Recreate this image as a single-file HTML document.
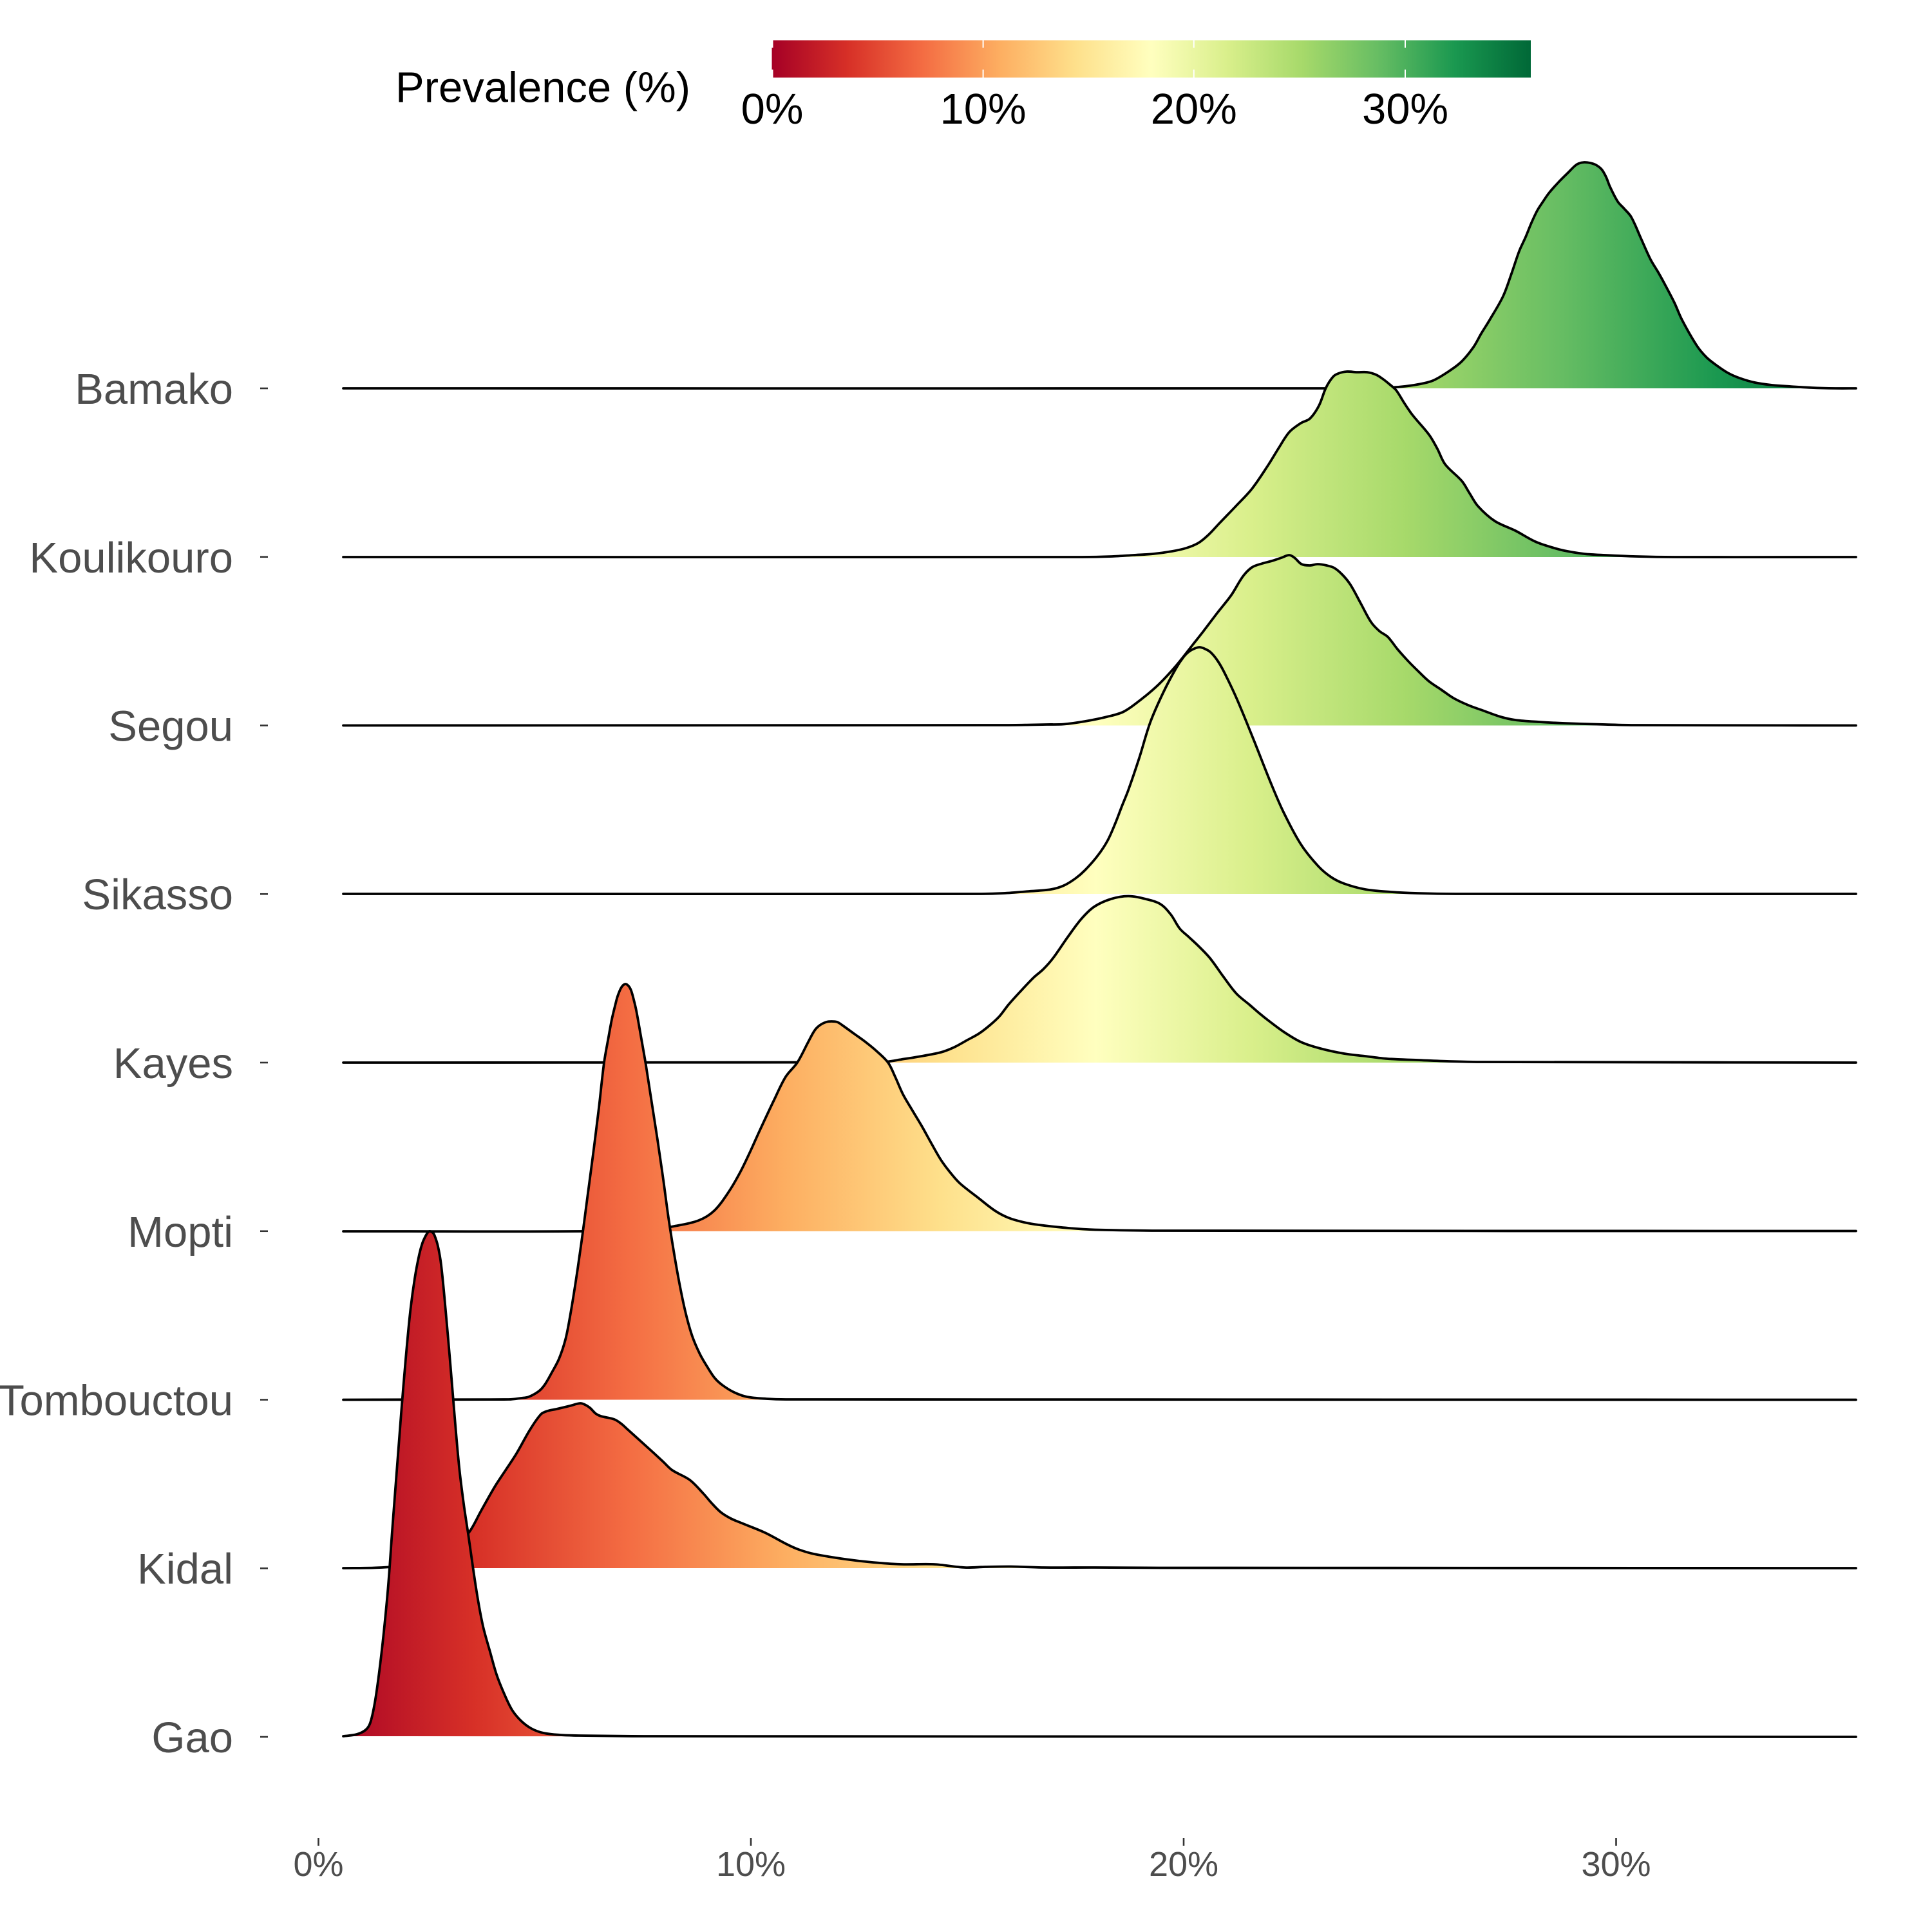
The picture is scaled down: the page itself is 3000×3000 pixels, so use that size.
<!DOCTYPE html>
<html>
<head>
<meta charset="utf-8">
<style>
  html, body { margin: 0; padding: 0; background: #ffffff; }
  svg { display: block; }
  .ylab { font-family: "Liberation Sans", Arial, sans-serif; font-size: 67px; fill: #4d4d4d; }
  .xlab { font-family: "Liberation Sans", Arial, sans-serif; font-size: 54px; fill: #4d4d4d; }
  .leg  { font-family: "Liberation Sans", Arial, sans-serif; font-size: 67px; fill: #000000; }
  .ridge-fill { fill: url(#rdylgn); stroke: none; }
  .ridge-line { fill: none; stroke: #000000; stroke-width: 3.8; stroke-linejoin: round; stroke-linecap: round; }
</style>
</head>
<body>
<svg width="3000" height="3000" viewBox="0 0 3000 3000" xmlns="http://www.w3.org/2000/svg">
  <defs>
    <linearGradient id="rdylgn" gradientUnits="userSpaceOnUse" x1="494.5" y1="0" x2="2909" y2="0">
      <stop offset="0" stop-color="#a50026"/>
      <stop offset="0.1" stop-color="#d73027"/>
      <stop offset="0.2" stop-color="#f46d43"/>
      <stop offset="0.3" stop-color="#fdae61"/>
      <stop offset="0.4" stop-color="#fee08b"/>
      <stop offset="0.5" stop-color="#ffffbf"/>
      <stop offset="0.6" stop-color="#d9ef8b"/>
      <stop offset="0.7" stop-color="#a6d96a"/>
      <stop offset="0.8" stop-color="#66bd63"/>
      <stop offset="0.9" stop-color="#1a9850"/>
      <stop offset="1" stop-color="#006837"/>
    </linearGradient>
    <linearGradient id="cbar" gradientUnits="objectBoundingBox" x1="0" y1="0" x2="1" y2="0">
      <stop offset="0" stop-color="#a50026"/>
      <stop offset="0.1" stop-color="#d73027"/>
      <stop offset="0.2" stop-color="#f46d43"/>
      <stop offset="0.3" stop-color="#fdae61"/>
      <stop offset="0.4" stop-color="#fee08b"/>
      <stop offset="0.5" stop-color="#ffffbf"/>
      <stop offset="0.6" stop-color="#d9ef8b"/>
      <stop offset="0.7" stop-color="#a6d96a"/>
      <stop offset="0.8" stop-color="#66bd63"/>
      <stop offset="0.9" stop-color="#1a9850"/>
      <stop offset="1" stop-color="#006837"/>
    </linearGradient>
  </defs>

  <rect x="0" y="0" width="3000" height="3000" fill="#ffffff"/>

  <!-- Legend -->
  <text class="leg" x="614" y="158.5">Prevalence (%)</text>
  <rect x="1198.5" y="62.5" width="1178.5" height="58" fill="url(#cbar)"/>
  <g stroke="#ffffff" stroke-width="2">
    <line x1="1199.5" y1="62.5" x2="1199.5" y2="74"/><line x1="1199.5" y1="108" x2="1199.5" y2="120.5"/>
    <line x1="1526.6" y1="62.5" x2="1526.6" y2="74"/><line x1="1526.6" y1="108" x2="1526.6" y2="120.5"/>
    <line x1="1853.8" y1="62.5" x2="1853.8" y2="74"/><line x1="1853.8" y1="108" x2="1853.8" y2="120.5"/>
    <line x1="2182" y1="62.5" x2="2182" y2="74"/><line x1="2182" y1="108" x2="2182" y2="120.5"/>
  </g>
  <g class="leg" text-anchor="middle">
    <text x="1199" y="192">0%</text>
    <text x="1526.6" y="192">10%</text>
    <text x="1853.8" y="192">20%</text>
    <text x="2182" y="192">30%</text>
  </g>

  <!-- Y axis labels -->
  <g class="ylab" text-anchor="end">
    <text x="362" y="627">Bamako</text>
    <text x="362" y="889">Koulikouro</text>
    <text x="362" y="1150.5">Segou</text>
    <text x="362" y="1412">Sikasso</text>
    <text x="362" y="1674">Kayes</text>
    <text x="362" y="1936">Mopti</text>
    <text x="362" y="2197.5">Tombouctou</text>
    <text x="362" y="2459">Kidal</text>
    <text x="362" y="2721">Gao</text>
  </g>
  <!-- Y ticks -->
  <g stroke="#333333" stroke-width="2.6">
    <line x1="404" y1="603" x2="416" y2="603"/>
    <line x1="404" y1="864.75" x2="416" y2="864.75"/>
    <line x1="404" y1="1126.5" x2="416" y2="1126.5"/>
    <line x1="404" y1="1388.25" x2="416" y2="1388.25"/>
    <line x1="404" y1="1650" x2="416" y2="1650"/>
    <line x1="404" y1="1911.75" x2="416" y2="1911.75"/>
    <line x1="404" y1="2173.5" x2="416" y2="2173.5"/>
    <line x1="404" y1="2435.25" x2="416" y2="2435.25"/>
    <line x1="404" y1="2697" x2="416" y2="2697"/>
  </g>

  <!-- X ticks and labels -->
  <g stroke="#333333" stroke-width="2.6">
    <line x1="494.5" y1="2854" x2="494.5" y2="2866"/>
    <line x1="1166" y1="2854" x2="1166" y2="2866"/>
    <line x1="1838" y1="2854" x2="1838" y2="2866"/>
    <line x1="2509.5" y1="2854" x2="2509.5" y2="2866"/>
  </g>
  <g class="xlab" text-anchor="middle">
    <text x="494.5" y="2913">0%</text>
    <text x="1166" y="2913">10%</text>
    <text x="1838" y="2913">20%</text>
    <text x="2509.5" y="2913">30%</text>
  </g>

  <!-- Ridges (top to bottom; lower rows drawn over upper) -->
  <!-- Bamako -->
  <path class="ridge-fill" d="M533,603 L2100,603 L2150,602 L2175,600.5 L2201,597 L2225,591 L2252,575 L2270,561 L2288,539 L2300,518 L2313,497 L2334,460 L2347,425 L2359,390 L2369,368 L2378,346 L2387,327 L2396,313 L2405,300 L2420,283 L2436,267 L2445,258 L2451,254 L2460,252 L2469,253 L2478,256 L2487,263 L2494,275 L2500,290 L2512,313 L2522,324 L2533,337 L2548,370 L2563,403 L2575,423 L2586,443 L2600,470 L2612,497 L2635,537 L2650,555 L2665,567 L2683,579 L2701,587 L2725,594 L2752,598 L2780,600 L2813,602 L2850,603 L2882,603 Z"/>
  <path class="ridge-line" d="M533,603 L2100,603 L2150,602 L2175,600.5 L2201,597 L2225,591 L2252,575 L2270,561 L2288,539 L2300,518 L2313,497 L2334,460 L2347,425 L2359,390 L2369,368 L2378,346 L2387,327 L2396,313 L2405,300 L2420,283 L2436,267 L2445,258 L2451,254 L2460,252 L2469,253 L2478,256 L2487,263 L2494,275 L2500,290 L2512,313 L2522,324 L2533,337 L2548,370 L2563,403 L2575,423 L2586,443 L2600,470 L2612,497 L2635,537 L2650,555 L2665,567 L2683,579 L2701,587 L2725,594 L2752,598 L2780,600 L2813,602 L2850,603 L2882,603"/>

  <!-- Koulikouro -->
  <path class="ridge-fill" d="M533,865 L1680,865 L1727,864 L1760,862 L1791,860 L1820,856 L1842,851 L1861,843 L1877,830 L1893,813 L1919,786 L1944,759 L1970,721 L1986,695 L2002,671 L2020,657 L2034,650 L2048,630 L2059,602 L2070,585 L2078,580 L2091,577 L2107,578 L2123,578 L2137,582 L2148,589 L2158,597 L2168,606 L2180,625 L2193,644 L2219,675 L2232,697 L2244,721 L2270,747 L2282,766 L2295,786 L2321,809 L2353,824 L2384,841 L2410,850 L2429,855 L2460,860 L2493,862 L2540,864 L2600,865 L2882,865 Z"/>
  <path class="ridge-line" d="M533,865 L1680,865 L1727,864 L1760,862 L1791,860 L1820,856 L1842,851 L1861,843 L1877,830 L1893,813 L1919,786 L1944,759 L1970,721 L1986,695 L2002,671 L2020,657 L2034,650 L2048,630 L2059,602 L2070,585 L2078,580 L2091,577 L2107,578 L2123,578 L2137,582 L2148,589 L2158,597 L2168,606 L2180,625 L2193,644 L2219,675 L2232,697 L2244,721 L2270,747 L2282,766 L2295,786 L2321,809 L2353,824 L2384,841 L2410,850 L2429,855 L2460,860 L2493,862 L2540,864 L2600,865 L2882,865"/>

  <!-- Segou -->
  <path class="ridge-fill" d="M533,1126.5 L1560,1126 L1600,1125.5 L1625,1125 L1652,1124.5 L1685,1120 L1719,1113 L1745,1105 L1772,1086 L1799,1063 L1826,1034 L1853,1000 L1868,981 L1890,952 L1912,924 L1930,895 L1944,881 L1960,875 L1975,871 L1990,866 L2002,862 L2010,866 L2021,876 L2034,878 L2046,876 L2060,878 L2072,882 L2085,893 L2097,908 L2113,937 L2129,966 L2142,980 L2155,989 L2170,1008 L2187,1027 L2203,1043 L2219,1058 L2238,1071 L2257,1084 L2280,1095 L2302,1103 L2330,1113 L2353,1118 L2390,1121 L2429,1123 L2493,1125 L2540,1126 L2882,1126.5 Z"/>
  <path class="ridge-line" d="M533,1126.5 L1560,1126 L1600,1125.5 L1625,1125 L1652,1124.5 L1685,1120 L1719,1113 L1745,1105 L1772,1086 L1799,1063 L1826,1034 L1853,1000 L1868,981 L1890,952 L1912,924 L1930,895 L1944,881 L1960,875 L1975,871 L1990,866 L2002,862 L2010,866 L2021,876 L2034,878 L2046,876 L2060,878 L2072,882 L2085,893 L2097,908 L2113,937 L2129,966 L2142,980 L2155,989 L2170,1008 L2187,1027 L2203,1043 L2219,1058 L2238,1071 L2257,1084 L2280,1095 L2302,1103 L2330,1113 L2353,1118 L2390,1121 L2429,1123 L2493,1125 L2540,1126 L2882,1126.5"/>

  <!-- Sikasso -->
  <path class="ridge-fill" d="M533,1388 L1520,1388 L1558,1387 L1598,1384 L1632,1381 L1652,1375 L1670,1364 L1685,1351 L1705,1328 L1720,1305 L1732,1278 L1742,1252 L1752,1227 L1769,1177 L1786,1122 L1806,1076 L1826,1038 L1838,1020 L1846,1012 L1855,1007 L1863,1005 L1872,1008 L1880,1013 L1890,1025 L1900,1042 L1920,1084 L1946,1147 L1973,1215 L1993,1261 L2020,1311 L2047,1345 L2067,1362 L2087,1372 L2120,1381 L2160,1385 L2201,1387 L2260,1388 L2882,1388 Z"/>
  <path class="ridge-line" d="M533,1388 L1520,1388 L1558,1387 L1598,1384 L1632,1381 L1652,1375 L1670,1364 L1685,1351 L1705,1328 L1720,1305 L1732,1278 L1742,1252 L1752,1227 L1769,1177 L1786,1122 L1806,1076 L1826,1038 L1838,1020 L1846,1012 L1855,1007 L1863,1005 L1872,1008 L1880,1013 L1890,1025 L1900,1042 L1920,1084 L1946,1147 L1973,1215 L1993,1261 L2020,1311 L2047,1345 L2067,1362 L2087,1372 L2120,1381 L2160,1385 L2201,1387 L2260,1388 L2882,1388"/>

  <!-- Kayes -->
  <path class="ridge-fill" d="M533,1650 L1330,1649.5 L1377,1648.5 L1400,1645 L1425,1641 L1461,1634 L1482,1626 L1502,1615 L1520,1605 L1537,1592 L1552,1578 L1566,1560 L1584,1540 L1605,1518 L1620,1505 L1635,1488 L1658,1455 L1679,1427 L1699,1408 L1725,1396 L1752,1391.5 L1779,1396 L1802,1404 L1818,1420 L1832,1442 L1846,1455 L1862,1470 L1879,1488 L1900,1517 L1920,1543 L1940,1560 L1955,1573 L1970,1585 L1993,1602 L2020,1618 L2050,1628 L2087,1636 L2120,1640 L2154,1644 L2201,1646 L2250,1648 L2300,1649 L2882,1650 Z"/>
  <path class="ridge-line" d="M533,1650 L1330,1649.5 L1377,1648.5 L1400,1645 L1425,1641 L1461,1634 L1482,1626 L1502,1615 L1520,1605 L1537,1592 L1552,1578 L1566,1560 L1584,1540 L1605,1518 L1620,1505 L1635,1488 L1658,1455 L1679,1427 L1699,1408 L1725,1396 L1752,1391.5 L1779,1396 L1802,1404 L1818,1420 L1832,1442 L1846,1455 L1862,1470 L1879,1488 L1900,1517 L1920,1543 L1940,1560 L1955,1573 L1970,1585 L1993,1602 L2020,1618 L2050,1628 L2087,1636 L2120,1640 L2154,1644 L2201,1646 L2250,1648 L2300,1649 L2882,1650"/>

  <!-- Mopti -->
  <path class="ridge-fill" d="M533,1912 L1000,1911 L1047,1904 L1085,1895 L1109,1880 L1132,1850 L1150,1819 L1165,1788 L1179,1757 L1202,1708 L1220,1672 L1238,1650 L1255,1618 L1265,1600 L1273,1592 L1283,1587 L1291,1586 L1300,1587 L1308,1592 L1326,1605 L1344,1618 L1361,1632 L1379,1650 L1390,1672 L1402,1699 L1416,1723 L1431,1748 L1446,1775 L1461,1801 L1475,1820 L1490,1837 L1519,1860 L1545,1880 L1566,1891 L1590,1898 L1613,1902 L1660,1907 L1700,1909.5 L1800,1911 L2882,1911.5 Z"/>
  <path class="ridge-line" d="M533,1912 L1000,1911 L1047,1904 L1085,1895 L1109,1880 L1132,1850 L1150,1819 L1165,1788 L1179,1757 L1202,1708 L1220,1672 L1238,1650 L1255,1618 L1265,1600 L1273,1592 L1283,1587 L1291,1586 L1300,1587 L1308,1592 L1326,1605 L1344,1618 L1361,1632 L1379,1650 L1390,1672 L1402,1699 L1416,1723 L1431,1748 L1446,1775 L1461,1801 L1475,1820 L1490,1837 L1519,1860 L1545,1880 L1566,1891 L1590,1898 L1613,1902 L1660,1907 L1700,1909.5 L1800,1911 L2882,1911.5"/>

  <!-- Tombouctou -->
  <path class="ridge-fill" d="M533,2173.5 L790,2173 L809,2171 L821,2169 L837,2160 L846,2150 L857,2131 L868,2110 L878,2080 L885,2045 L894,1990 L903,1928 L912,1860 L921,1792 L930,1720 L938,1650 L945,1610 L950,1583 L955,1562 L959,1547 L965,1533 L971,1528 L976,1531 L980,1538 L984,1552 L988,1569 L995,1608 L1003,1654 L1012,1712 L1021,1770 L1030,1832 L1038,1891 L1047,1948 L1056,1998 L1065,2040 L1075,2075 L1087,2103 L1098,2122 L1110,2140 L1122,2151 L1140,2162 L1160,2169 L1190,2172 L1220,2173 L2882,2173.5 Z"/>
  <path class="ridge-line" d="M533,2173.5 L790,2173 L809,2171 L821,2169 L837,2160 L846,2150 L857,2131 L868,2110 L878,2080 L885,2045 L894,1990 L903,1928 L912,1860 L921,1792 L930,1720 L938,1650 L945,1610 L950,1583 L955,1562 L959,1547 L965,1533 L971,1528 L976,1531 L980,1538 L984,1552 L988,1569 L995,1608 L1003,1654 L1012,1712 L1021,1770 L1030,1832 L1038,1891 L1047,1948 L1056,1998 L1065,2040 L1075,2075 L1087,2103 L1098,2122 L1110,2140 L1122,2151 L1140,2162 L1160,2169 L1190,2172 L1220,2173 L2882,2173.5"/>

  <!-- Kidal -->
  <path class="ridge-fill" d="M533,2435 L580,2434.5 L610,2433 L650,2430 L690,2420 L710,2400 L730,2377 L747,2346 L768,2309 L785,2283 L802,2257 L823,2220 L840,2196 L850,2191 L864,2188 L885,2183 L901,2179 L908,2181 L916,2186 L925,2195 L933,2199 L954,2204 L965,2211 L975,2220 L995,2238 L1016,2257 L1030,2270 L1044,2283 L1071,2298 L1092,2319 L1105,2334 L1119,2348 L1135,2358 L1154,2366 L1188,2380 L1222,2398 L1240,2406 L1264,2413 L1312,2421 L1355,2426 L1400,2429 L1450,2429 L1498,2434 L1530,2433 L1570,2432.5 L1620,2434 L1700,2434 L1800,2434.5 L2882,2435 Z"/>
  <path class="ridge-line" d="M533,2435 L580,2434.5 L610,2433 L650,2430 L690,2420 L710,2400 L730,2377 L747,2346 L768,2309 L785,2283 L802,2257 L823,2220 L840,2196 L850,2191 L864,2188 L885,2183 L901,2179 L908,2181 L916,2186 L925,2195 L933,2199 L954,2204 L965,2211 L975,2220 L995,2238 L1016,2257 L1030,2270 L1044,2283 L1071,2298 L1092,2319 L1105,2334 L1119,2348 L1135,2358 L1154,2366 L1188,2380 L1222,2398 L1240,2406 L1264,2413 L1312,2421 L1355,2426 L1400,2429 L1450,2429 L1498,2434 L1530,2433 L1570,2432.5 L1620,2434 L1700,2434 L1800,2434.5 L2882,2435"/>

  <!-- Gao -->
  <path class="ridge-fill" d="M533,2696 L554,2693 L568,2686 L575,2675 L582,2644 L589,2595 L596,2534 L603,2460 L609,2377 L616,2285 L623,2194 L630,2110 L637,2037 L644,1985 L651,1948 L656,1930 L661,1919 L665,1913 L668,1912 L672,1914 L675,1919 L680,1935 L685,1964 L692,2035 L699,2115 L706,2200 L713,2278 L720,2335 L727,2382 L740,2471 L750,2525 L761,2565 L771,2600 L782,2628 L795,2655 L809,2672 L825,2684 L844,2691 L870,2694 L899,2695 L1000,2696 L2882,2697 Z"/>
  <path class="ridge-line" d="M533,2696 L554,2693 L568,2686 L575,2675 L582,2644 L589,2595 L596,2534 L603,2460 L609,2377 L616,2285 L623,2194 L630,2110 L637,2037 L644,1985 L651,1948 L656,1930 L661,1919 L665,1913 L668,1912 L672,1914 L675,1919 L680,1935 L685,1964 L692,2035 L699,2115 L706,2200 L713,2278 L720,2335 L727,2382 L740,2471 L750,2525 L761,2565 L771,2600 L782,2628 L795,2655 L809,2672 L825,2684 L844,2691 L870,2694 L899,2695 L1000,2696 L2882,2697"/>
</svg>
<script>
(function(){
  try {
    var ps = document.querySelectorAll('path.ridge-fill, path.ridge-line');
    for (var k = 0; k < ps.length; k++) {
      var el = ps[k], d = el.getAttribute('d'), closed = /Z/.test(d);
      var nums = d.match(/-?\d+(?:\.\d+)?/g);
      if (!nums) continue;
      var p = [];
      for (var i = 0; i + 1 < nums.length; i += 2) p.push([parseFloat(nums[i]), parseFloat(nums[i+1])]);
      if (p.length < 3) continue;
      var t = [];
      for (var i = 0; i < p.length; i++) {
        var a = p[Math.max(0, i-1)], b = p[Math.min(p.length-1, i+1)];
        var dx = b[0]-a[0], dy = b[1]-a[1], L = Math.sqrt(dx*dx+dy*dy) || 1;
        t.push([dx/L, dy/L]);
      }
      var s = 'M' + p[0][0] + ',' + p[0][1];
      for (var i = 0; i < p.length-1; i++) {
        var q = p[i], r = p[i+1];
        var ddx = r[0]-q[0], ddy = r[1]-q[1];
        var h = Math.sqrt(ddx*ddx+ddy*ddy)/3;
        s += ' C' + (q[0]+t[i][0]*h).toFixed(2) + ',' + (q[1]+t[i][1]*h).toFixed(2) + ' ' +
             (r[0]-t[i+1][0]*h).toFixed(2) + ',' + (r[1]-t[i+1][1]*h).toFixed(2) + ' ' +
             r[0] + ',' + r[1];
      }
      if (closed) s += ' Z';
      el.setAttribute('d', s);
    }
  } catch (e) {}
})();
</script>
</body>
</html>
